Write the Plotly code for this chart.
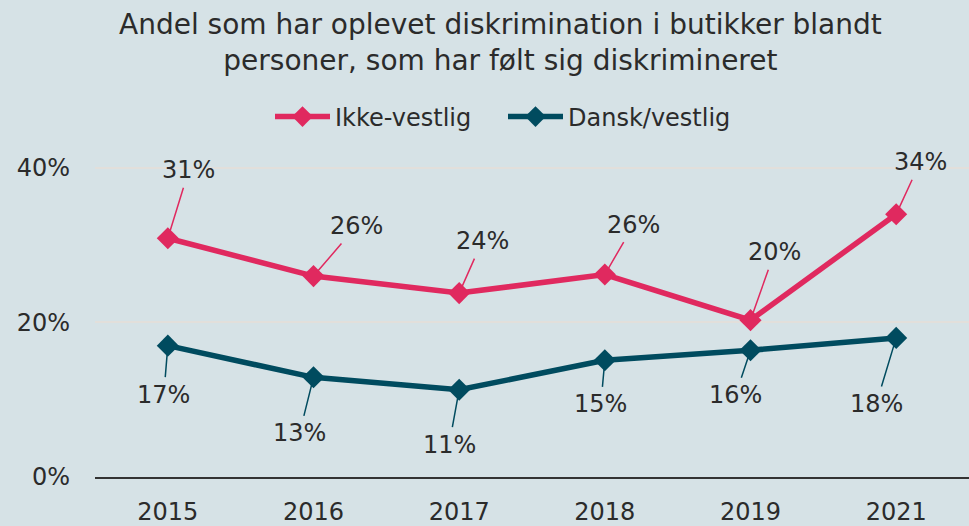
import plotly.graph_objects as go

years = ["2015", "2016", "2017", "2018", "2019", "2021"]
ikke_vestlig = [30.9, 26.0, 23.8, 26.2, 20.3, 34.0]
dansk_vestlig = [17.0, 12.9, 11.3, 15.1, 16.4, 18.0]
y_ticks = [0, 20, 40]
title_text = "Andel som har oplevet diskrimination i butikker blandt<br>personer, som har følt sig diskrimineret"

PINK = "#e0295f"
TEAL = "#004b5f"
BG = "#d6e2e6"
TXT = "#2b2b2b"
FONT = "DejaVu Sans"

# label offsets (px) for leader lines
ikke_off = [(21, -68), (43, -50), (23, -52), (29, -50), (24, -68), (24, -52)]
dansk_off = [(-4, 49), (-14, 56), (-10, 55), (-4, 44), (-15, 45), (-20, 66)]

fig = go.Figure()
fig.add_trace(go.Scatter(x=years, y=ikke_vestlig, name="Ikke-vestlig", mode="lines+markers",
                         line=dict(color=PINK, width=5.5),
                         marker=dict(symbol="diamond", size=17, color=PINK)))
fig.add_trace(go.Scatter(x=years, y=dansk_vestlig, name="Dansk/vestlig", mode="lines+markers",
                         line=dict(color=TEAL, width=5.5),
                         marker=dict(symbol="diamond", size=17, color=TEAL)))

for vals, offs, col in ((ikke_vestlig, ikke_off, PINK), (dansk_vestlig, dansk_off, TEAL)):
    for i, (v, (ax, ay)) in enumerate(zip(vals, offs)):
        fig.add_annotation(x=i, y=v, text=f"{round(v)}%", showarrow=True, arrowhead=0,
                           arrowwidth=1.5, arrowcolor=col, ax=ax, ay=ay, standoff=6,
                           borderpad=3, font=dict(family=FONT, size=24, color=TXT))

fig.add_annotation(text=title_text, xref="paper", yref="paper", x=(500 - 95) / 874, y=(477 - 6) / 340,
                   xanchor="center", yanchor="top", showarrow=False, align="center",
                   font=dict(family=FONT, size=28, color=TXT))

fig.update_layout(
    width=969, height=526,
    paper_bgcolor=BG, plot_bgcolor=BG,
    margin=dict(l=95, r=0, t=137, b=49),
    font=dict(family=FONT, size=24, color=TXT),
    legend=dict(orientation="h", x=(503 - 95) / 874, xanchor="center", y=(477 - 117) / 340, yanchor="middle",
                entrywidth=163, entrywidthmode="pixels", itemwidth=55,
                font=dict(family=FONT, size=24, color=TXT), bgcolor="rgba(0,0,0,0)"),
    showlegend=True,
)
fig.update_xaxes(type="category", range=[-0.5, len(years) - 0.5], showgrid=False, showline=True,
                 linecolor="#333333", linewidth=2,
                 ticks="", ticklabelstandoff=12, tickfont=dict(size=24))
fig.update_yaxes(range=[0, 44], tickvals=y_ticks, ticktext=[f"{t}%" for t in y_ticks],
                 showgrid=True, gridcolor="#e2dfdb", gridwidth=2, zeroline=False, showline=False,
                 ticks="", ticklabelstandoff=24, tickfont=dict(size=24))

fig.write_html("out.html", config={"displayModeBar": False},
               post_script="document.body.style.margin='0';document.body.style.background='" + BG + "';")
